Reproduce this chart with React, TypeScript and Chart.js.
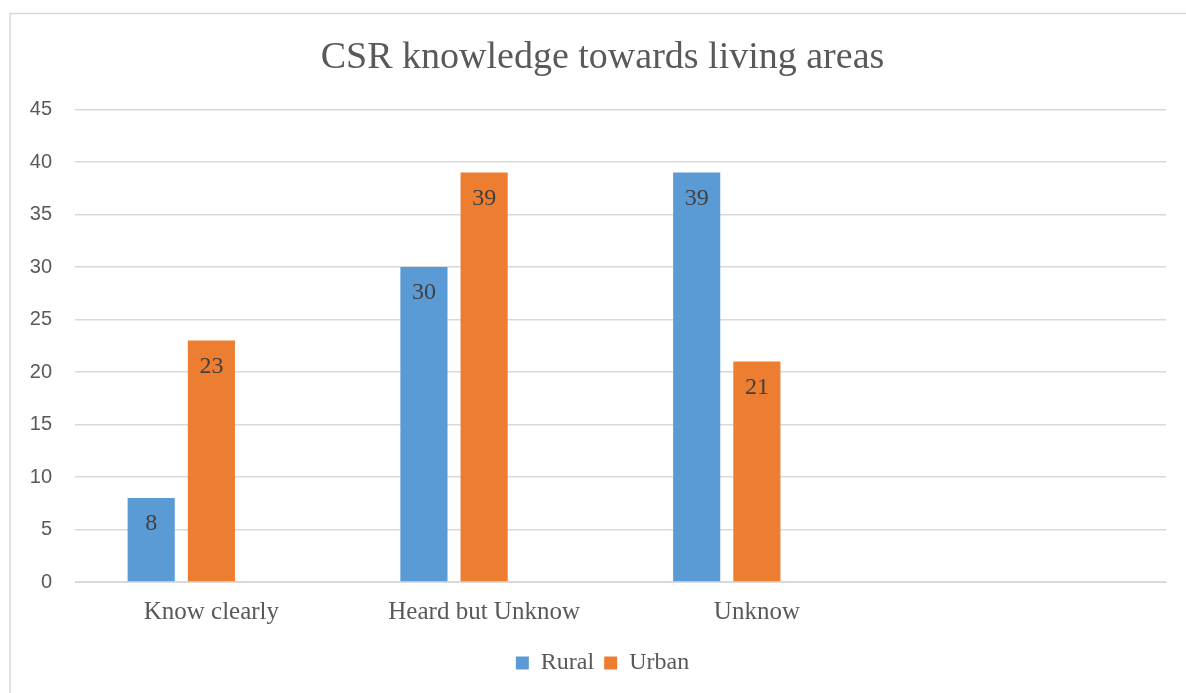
import React, { useEffect, useRef } from "react";
import { Chart, registerables } from "chart.js";

Chart.register(...registerables);

const categories = ["Know clearly", "Heard but Unknow", "Unknow", ""];
const ruralValues = [8, 30, 39, null];
const urbanValues = [23, 39, 21, null];
const spacerValues = [null, null, null, null];
const yTicks = [0, 5, 10, 15, 20, 25, 30, 35, 40, 45];

const SERIF = "'Liberation Serif', 'Times New Roman', serif";
const SANS = "'Liberation Sans', Arial, sans-serif";

const framePlugin = {
  id: "frame",
  beforeDraw(chart: any) {
    const ctx = chart.ctx;
    ctx.save();
    ctx.fillStyle = "#ffffff";
    ctx.fillRect(0, 0, chart.width, chart.height);
    ctx.strokeStyle = "#d9d9d9";
    ctx.lineWidth = 1.5;
    ctx.beginPath();
    ctx.moveTo(10, chart.height + 2);
    ctx.lineTo(10, 13.5);
    ctx.lineTo(chart.width + 2, 13.5);
    ctx.stroke();
    ctx.restore();
  },
};

const valueLabelPlugin = {
  id: "valueLabels",
  afterDatasetsDraw(chart: any) {
    const ctx = chart.ctx;
    ctx.save();
    ctx.font = `24px ${SERIF}`;
    ctx.fillStyle = "#404040";
    ctx.textAlign = "center";
    ctx.textBaseline = "middle";
    [0, 1].forEach((di) => {
      const meta = chart.getDatasetMeta(di);
      const data = chart.data.datasets[di].data;
      meta.data.forEach((bar: any, i: number) => {
        const v = data[i];
        if (v === null || v === undefined) return;
        ctx.fillText(String(v), bar.x, bar.y + 26);
      });
    });
    ctx.restore();
  },
};

export default function App() {
  const canvasRef = useRef<HTMLCanvasElement>(null);

  useEffect(() => {
    if (!canvasRef.current) return;
    const chart = new Chart(canvasRef.current, {
      type: "bar",
      data: {
        labels: categories,
        datasets: [
          {
            label: "Rural",
            data: ruralValues,
            backgroundColor: "#5b9bd5",
            categoryPercentage: 0.662,
            barPercentage: 0.783,
          },
          {
            label: "Urban",
            data: urbanValues,
            backgroundColor: "#ed7d31",
            categoryPercentage: 0.662,
            barPercentage: 0.783,
          },
          {
            label: "",
            data: spacerValues,
            backgroundColor: "#a5a5a5",
            categoryPercentage: 0.662,
            barPercentage: 0.783,
          },
        ],
      },
      options: {
        responsive: false,
        animation: false,
        layout: { padding: { left: 19, right: 0, top: 0, bottom: 8 } },
        plugins: {
          title: {
            display: true,
            text: "CSR knowledge towards living areas",
            color: "#595959",
            font: { family: SERIF, size: 38, weight: "normal" },
            padding: { top: 35, bottom: 29 },
          },
          legend: {
            display: true,
            position: "bottom",
            labels: {
              color: "#595959",
              font: { family: SERIF, size: 24 },
              boxWidth: 13,
              boxHeight: 13,
              padding: 10,
              filter: (item: any) => item.datasetIndex < 2,
            },
          },
          tooltip: { enabled: false },
        },
        scales: {
          x: {
            grid: { display: false, drawTicks: false },
            border: { display: true, color: "#d9d9d9" },
            ticks: {
              color: "#595959",
              font: { family: SERIF, size: 25 },
              padding: 15,
              maxRotation: 0,
              autoSkip: false,
            },
            afterFit: (scale: any) => {
              scale.height = 59;
            },
          },
          y: {
            min: 0,
            max: 45,
            afterBuildTicks: (scale: any) => {
              scale.ticks = yTicks.map((v) => ({ value: v }));
            },
            grid: { color: "#d9d9d9", lineWidth: 1.5, drawTicks: false },
            border: { display: false },
            ticks: {
              color: "#595959",
              font: { family: SANS, size: 20 },
              padding: 23,
            },
            afterFit: (scale: any) => {
              scale.width = 56;
            },
          },
          yRightSpacer: {
            type: "linear",
            position: "right",
            display: true,
            grid: { display: false, drawTicks: false },
            border: { display: false },
            ticks: { display: false },
            afterFit: (scale: any) => {
              scale.width = 20;
            },
          },
        },
      },
      plugins: [framePlugin, valueLabelPlugin],
    });
    return () => chart.destroy();
  }, []);

  return (
    <div style={{ position: "absolute", left: 0, top: 0, width: 1186, height: 693 }}>
      <canvas ref={canvasRef} width={1186} height={693} />
    </div>
  );
}
